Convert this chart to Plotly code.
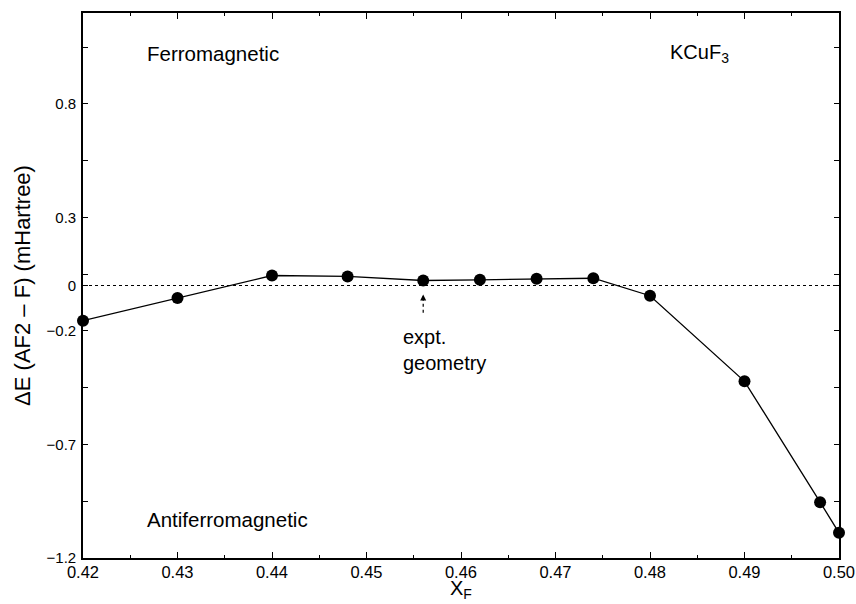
import plotly.graph_objects as go

x_f = [0.42, 0.43, 0.44, 0.448, 0.456, 0.462, 0.468, 0.474, 0.48, 0.49, 0.498, 0.50]
delta_e = [-0.155, -0.055, 0.044, 0.040, 0.022, 0.025, 0.030, 0.032, -0.045, -0.422, -0.954, -1.089]

y_tickvals = [-1.2, -0.7, -0.2, 0, 0.3, 0.8]
y_ticktext = ["\u22121.2", "\u22120.7", "\u22120.2", "0", "0.3", "0.8"]
x_tickvals = [0.42, 0.43, 0.44, 0.45, 0.46, 0.47, 0.48, 0.49, 0.50]
x_ticktext = ["0.42", "0.43", "0.44", "0.45", "0.46", "0.47", "0.48", "0.49", "0.50"]

expt_x = 0.456
arrow_y = [-0.12, -0.05]

FONT = "Liberation Sans, Arial, Helvetica, sans-serif"

fig = go.Figure()

# dotted zero line
fig.add_trace(go.Scatter(
    x=[0.42, 0.50], y=[0, 0], mode="lines",
    line=dict(color="black", width=1.2, dash="dot"),
    hoverinfo="skip", showlegend=False,
))

# dotted arrow shaft
fig.add_trace(go.Scatter(
    x=[expt_x, expt_x], y=arrow_y, mode="lines",
    line=dict(color="black", width=1.2, dash="dot"),
    hoverinfo="skip", showlegend=False,
))

fig.add_trace(go.Scatter(
    x=x_f, y=delta_e, mode="lines+markers",
    line=dict(color="black", width=1.3),
    marker=dict(color="black", size=12),
    cliponaxis=False, showlegend=False,
))

# arrow head
fig.add_annotation(x=expt_x, y=-0.04, ax=expt_x, ay=-0.065, xref="x", yref="y",
                   axref="x", ayref="y", text="", showarrow=True,
                   arrowhead=2, arrowsize=1, arrowwidth=1.2, arrowcolor="black")
fig.add_annotation(x=0.4536, y=-0.17, xref="x", yref="y", text="expt.<br>geometry",
                   showarrow=False, xanchor="left", yanchor="top", align="left",
                   font=dict(family=FONT, size=20, color="black"))

fig.add_annotation(x=0.4266, y=1.02, xref="x", yref="y", text="Ferromagnetic",
                   showarrow=False, xanchor="left", yanchor="middle",
                   font=dict(family=FONT, size=20.5, color="black"))
fig.add_annotation(x=0.4819, y=1.02, xref="x", yref="y", text="KCuF<sub>3</sub>",
                   showarrow=False, xanchor="left", yanchor="middle",
                   font=dict(family=FONT, size=20, color="black"))
fig.add_annotation(x=0.4266, y=-1.03, xref="x", yref="y", text="Antiferromagnetic",
                   showarrow=False, xanchor="left", yanchor="middle",
                   font=dict(family=FONT, size=20.5, color="black"))

# x-axis title
fig.add_annotation(x=0.5, y=-0.0844, xref="paper", yref="paper", text="X<sub>F</sub>",
                   showarrow=False, xanchor="center", yanchor="bottom",
                   font=dict(family=FONT, size=20, color="black"))

fig.update_layout(
    width=856, height=604,
    margin=dict(l=83, r=17, t=13, b=46),
    paper_bgcolor="white", plot_bgcolor="white",
    font=dict(family=FONT, color="black"),
    xaxis=dict(
        range=[0.42, 0.50], tickvals=x_tickvals, ticktext=x_ticktext,
        automargin=False,
        ticks="inside", ticklen=6, tickwidth=1.2, tickcolor="black",
        minor=dict(ticks="inside", ticklen=3, tickwidth=1, tickcolor="black",
                   tick0=0.42, dtick=0.005),
        showline=True, linecolor="black", linewidth=1.6, mirror="allticks",
        showgrid=False, zeroline=False,
        tickfont=dict(family=FONT, size=16.5, color="black"),
        ticklabelstandoff=-2,
    ),
    yaxis=dict(
        range=[-1.2, 1.2], tickvals=y_tickvals, ticktext=y_ticktext,
        automargin=False,
        ticks="inside", ticklen=5, tickwidth=1.2, tickcolor="black",
        minor=dict(ticks="inside", ticklen=5, tickwidth=1, tickcolor="black",
                   tick0=-1.2, dtick=0.25),
        showline=True, linecolor="black", linewidth=1.6, mirror="allticks",
        showgrid=False, zeroline=False,
        tickfont=dict(family=FONT, size=15, color="black"),
        ticklabelstandoff=2,
        title=dict(text="\u0394E (AF2 \u2013 F) (mHartree)",
                   font=dict(family=FONT, size=22, color="black"), standoff=10),
    ),
)

fig.write_html("out.html")
